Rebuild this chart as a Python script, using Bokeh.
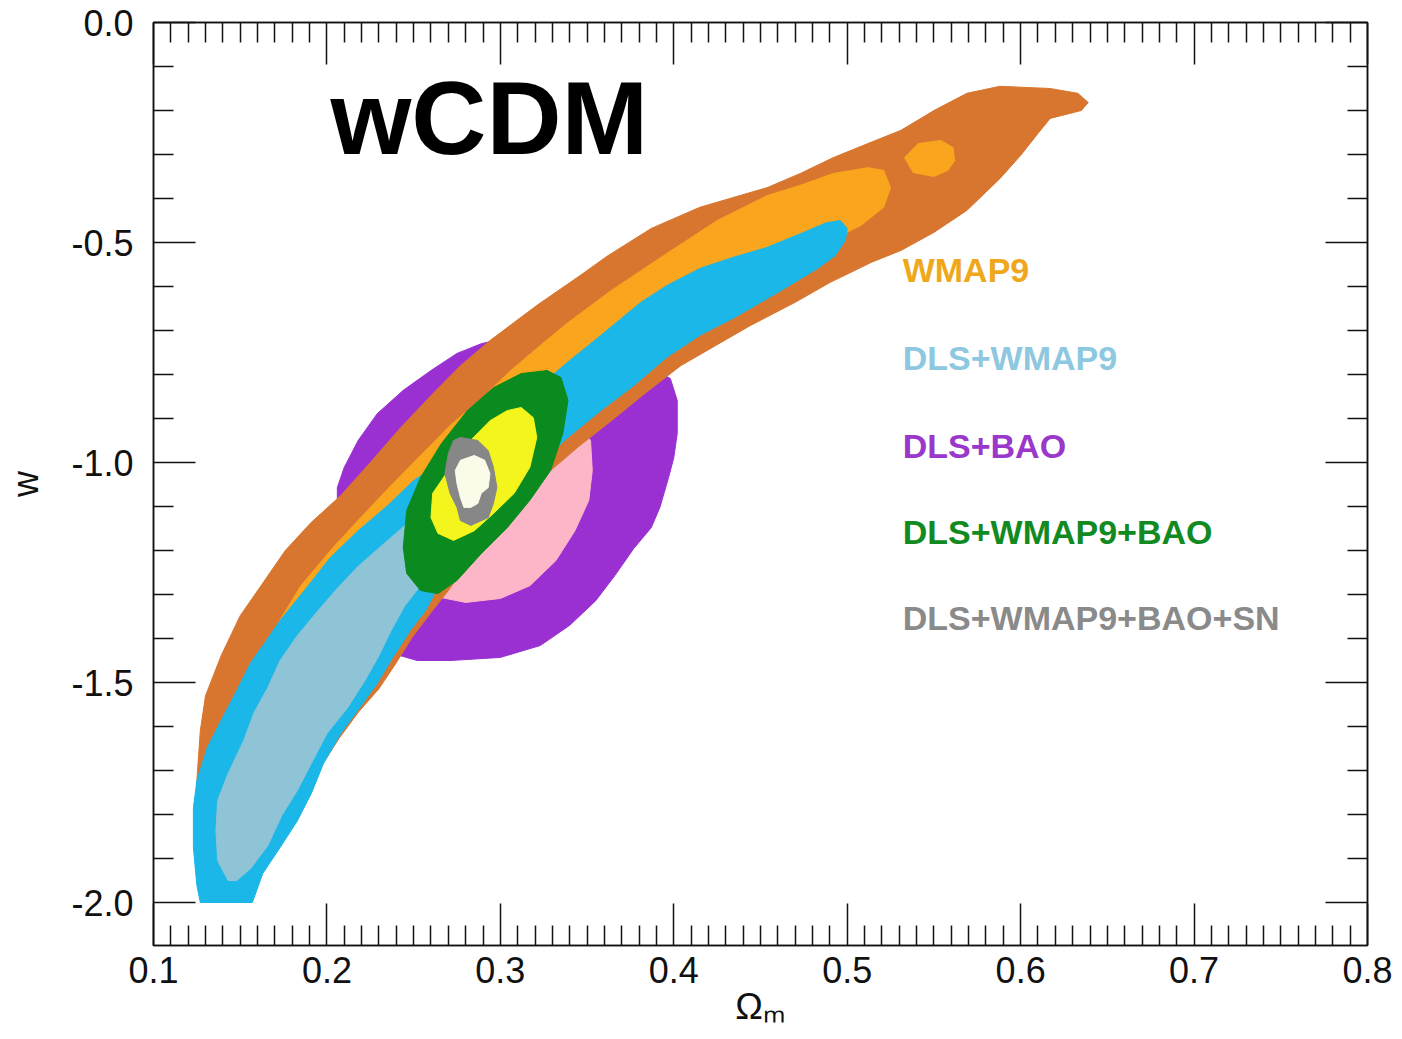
from bokeh.plotting import figure
from bokeh.models import Range1d, LinearAxis, FixedTicker, CustomJSTickFormatter, Label
from bokeh.embed import file_html
from bokeh.resources import INLINE

# ---------------- data (contour boundaries) ----------------
# DLS+BAO (95% outer / 68% inner)
bao95_x = [0.206, 0.210, 0.218, 0.229, 0.244, 0.260, 0.275, 0.289, 0.306, 0.326, 0.346, 0.366, 0.384, 0.398,
           0.402, 0.402, 0.400, 0.397, 0.392, 0.387, 0.377, 0.366, 0.355, 0.340, 0.323, 0.300, 0.271, 0.252,
           0.238, 0.228, 0.216, 0.210, 0.206]
bao95_y = [-1.057, -1.011, -0.950, -0.889, -0.836, -0.791, -0.752, -0.730, -0.714, -0.718, -0.734, -0.757, -0.780, -0.809,
           -0.859, -0.934, -0.989, -1.034, -1.102, -1.148, -1.195, -1.257, -1.314, -1.370, -1.416, -1.443, -1.450, -1.450,
           -1.434, -1.382, -1.291, -1.200, -1.120]
bao68_x = [0.352, 0.353, 0.351, 0.343, 0.332, 0.317, 0.300, 0.280, 0.266, 0.254, 0.248, 0.254, 0.271, 0.294, 0.317, 0.340]
bao68_y = [-0.950, -1.018, -1.086, -1.155, -1.223, -1.280, -1.309, -1.318, -1.307, -1.268, -1.200, -1.086, -0.984, -0.916,
           -0.882, -0.893]

# WMAP9
wmap95_x = [0.125, 0.127, 0.130, 0.139, 0.150, 0.162, 0.176, 0.191, 0.208, 0.225, 0.242, 0.260, 0.277, 0.294, 0.321,
            0.346, 0.362, 0.387, 0.415, 0.454, 0.473, 0.492, 0.512, 0.531, 0.550, 0.569, 0.588, 0.617, 0.633, 0.639,
            0.635, 0.617, 0.610, 0.600, 0.588, 0.569, 0.550, 0.531, 0.514, 0.490, 0.470, 0.444, 0.422, 0.404, 0.384,
            0.364, 0.345, 0.329, 0.312, 0.294, 0.280, 0.270, 0.260, 0.249, 0.240, 0.230, 0.218, 0.207, 0.197, 0.191,
            0.184, 0.177, 0.167, 0.150, 0.133, 0.125]
wmap95_y = [-1.723, -1.609, -1.530, -1.439, -1.348, -1.280, -1.200, -1.136, -1.075, -1.000, -0.923, -0.848, -0.780, -0.723,
            -0.643, -0.575, -0.530, -0.468, -0.420, -0.375, -0.343, -0.307, -0.275, -0.245, -0.200, -0.161, -0.145, -0.150,
            -0.161, -0.182, -0.200, -0.218, -0.252, -0.302, -0.355, -0.427, -0.477, -0.518, -0.545, -0.591, -0.636, -0.689,
            -0.739, -0.780, -0.841, -0.905, -0.964, -1.018, -1.086, -1.155, -1.234, -1.291, -1.341, -1.398, -1.455, -1.514,
            -1.568, -1.627, -1.689, -1.750, -1.802, -1.843, -1.882, -1.927, -1.905, -1.836]
wmap68_x = [0.172, 0.185, 0.202, 0.219, 0.237, 0.254, 0.271, 0.289, 0.306, 0.323, 0.339, 0.364, 0.394, 0.425, 0.454,
            0.473, 0.492, 0.512, 0.521, 0.525, 0.521, 0.508, 0.500, 0.485, 0.462, 0.439, 0.415, 0.387, 0.358, 0.329,
            0.300, 0.271, 0.242, 0.214, 0.185]
wmap68_y = [-1.364, -1.280, -1.200, -1.127, -1.052, -0.984, -0.916, -0.855, -0.791, -0.734, -0.682, -0.609, -0.530, -0.450,
            -0.393, -0.370, -0.343, -0.330, -0.336, -0.375, -0.420, -0.461, -0.477, -0.518, -0.564, -0.598, -0.632, -0.700,
            -0.768, -0.848, -0.927, -1.018, -1.120, -1.234, -1.348]
wmap68_island_x = [0.533, 0.541, 0.554, 0.561, 0.562, 0.558, 0.550, 0.538]
wmap68_island_y = [-0.307, -0.275, -0.268, -0.284, -0.314, -0.336, -0.350, -0.341]

# DLS+WMAP9
dw95_x = [0.127, 0.125, 0.123, 0.123, 0.125, 0.131, 0.139, 0.148, 0.156, 0.165, 0.173, 0.187, 0.202, 0.218, 0.235,
          0.250, 0.270, 0.289, 0.306, 0.323, 0.340, 0.358, 0.381, 0.396, 0.415, 0.434, 0.454, 0.473, 0.488, 0.496,
          0.500, 0.499, 0.493, 0.483, 0.462, 0.434, 0.415, 0.396, 0.377, 0.358, 0.339, 0.323, 0.308, 0.289, 0.277,
          0.266, 0.257, 0.248, 0.238, 0.229, 0.219, 0.208, 0.198, 0.191, 0.183, 0.173, 0.163, 0.157]
dw95_y = [-2.000, -1.961, -1.875, -1.784, -1.723, -1.648, -1.586, -1.518, -1.455, -1.405, -1.359, -1.291, -1.216, -1.155,
          -1.098, -1.041, -0.989, -0.939, -0.882, -0.825, -0.768, -0.711, -0.636, -0.598, -0.559, -0.534, -0.511, -0.480,
          -0.455, -0.450, -0.468, -0.495, -0.530, -0.559, -0.609, -0.673, -0.711, -0.761, -0.825, -0.882, -0.943, -1.000,
          -1.057, -1.120, -1.189, -1.268, -1.336, -1.382, -1.443, -1.502, -1.557, -1.616, -1.684, -1.752, -1.814, -1.875,
          -1.934, -2.000]
dw68_x = [0.143, 0.137, 0.136, 0.137, 0.143, 0.152, 0.158, 0.166, 0.173, 0.183, 0.195, 0.206, 0.218, 0.231, 0.245,
          0.260, 0.274, 0.283, 0.280, 0.266, 0.254, 0.245, 0.237, 0.230, 0.222, 0.212, 0.200, 0.191, 0.183, 0.174,
          0.166, 0.156, 0.148]
dw68_y = [-1.950, -1.905, -1.836, -1.768, -1.707, -1.632, -1.568, -1.511, -1.450, -1.393, -1.336, -1.286, -1.236, -1.191,
          -1.143, -1.098, -1.064, -1.075, -1.155, -1.223, -1.280, -1.325, -1.382, -1.439, -1.495, -1.557, -1.616, -1.684,
          -1.745, -1.802, -1.870, -1.923, -1.950]

# DLS+WMAP9+BAO
dwb95_x = [0.327, 0.312, 0.296, 0.281, 0.266, 0.254, 0.246, 0.244, 0.246, 0.254, 0.264, 0.275, 0.289, 0.304, 0.317,
           0.329, 0.336, 0.339, 0.335]
dwb95_y = [-0.791, -0.798, -0.830, -0.882, -0.957, -1.034, -1.109, -1.193, -1.252, -1.291, -1.298, -1.268, -1.207, -1.148,
           -1.086, -1.018, -0.934, -0.859, -0.807]
dwb68_x = [0.312, 0.319, 0.321, 0.317, 0.308, 0.296, 0.285, 0.273, 0.264, 0.260, 0.261, 0.270, 0.281, 0.294, 0.304]
dwb68_y = [-0.875, -0.898, -0.943, -1.011, -1.070, -1.116, -1.155, -1.177, -1.161, -1.125, -1.070, -1.018, -0.957, -0.905,
           -0.882]

# DLS+WMAP9+BAO+SN
dwbs95_x = [0.277, 0.287, 0.293, 0.296, 0.298, 0.296, 0.293, 0.283, 0.277, 0.275, 0.271, 0.268, 0.270, 0.273]
dwbs95_y = [-0.943, -0.950, -0.973, -1.011, -1.057, -1.093, -1.125, -1.143, -1.132, -1.102, -1.070, -1.025, -0.980, -0.950]
dwbs68_x = [0.277, 0.285, 0.291, 0.294, 0.293, 0.289, 0.287, 0.283, 0.279, 0.277, 0.275, 0.274]
dwbs68_y = [-0.995, -0.984, -0.995, -1.025, -1.057, -1.070, -1.093, -1.102, -1.102, -1.080, -1.048, -1.018]

# legend texts
legend_names = ["WMAP9", "DLS+WMAP9", "DLS+BAO", "DLS+WMAP9+BAO", "DLS+WMAP9+BAO+SN"]
legend_y = [-0.562, -0.762, -0.962, -1.157, -1.353]
legend_colors = ["#EFA81C", "#8DC8E0", "#9A38CC", "#128A22", "#8A8A8A"]

# axes
x_ticks = [0.1, 0.2, 0.3, 0.4, 0.5, 0.6, 0.7, 0.8]
x_minor = [round(0.1 + 0.01 * i, 2) for i in range(1, 70) if i % 10 != 0]
y_ticks = [-2.0, -1.5, -1.0, -0.5, 0.0]
y_minor = [round(-2.0 + 0.1 * i, 1) for i in range(1, 20) if i % 5 != 0]

# ---------------- figure ----------------
p = figure(width=1402, height=1039, x_range=Range1d(0.1, 0.8), y_range=Range1d(-2.0977, 0.0),
           x_axis_type=None, y_axis_type=None, output_backend="svg", toolbar_location=None,
           min_border_left=153, min_border_right=35, min_border_top=22, min_border_bottom=94)
p.background_fill_color = "white"
p.border_fill_color = "white"
p.outline_line_color = "#111111"
p.outline_line_width = 1.5

layers = [
    (bao95_x, bao95_y, "#9A30D2"),
    (bao68_x, bao68_y, "#FDB6C8"),
    (wmap95_x, wmap95_y, "#D8762F"),
    (wmap68_x, wmap68_y, "#F9A51E"),
    (wmap68_island_x, wmap68_island_y, "#F9A51E"),
    (dw95_x, dw95_y, "#1BB7E8"),
    (dw68_x, dw68_y, "#8FC3D6"),
    (dwb95_x, dwb95_y, "#0B8A1F"),
    (dwb68_x, dwb68_y, "#F3F51C"),
    (dwbs95_x, dwbs95_y, "#878787"),
    (dwbs68_x, dwbs68_y, "#FBFBEA"),
]
for xs, ys, col in layers:
    p.patch(xs, ys, fill_color=col, line_color=col, line_width=1)

fmt = CustomJSTickFormatter(code="return tick.toFixed(1);")
blank = CustomJSTickFormatter(code="return '';")


def style(ax, labels=True):
    ax.major_tick_in = 42
    ax.major_tick_out = 0
    ax.minor_tick_in = 20
    ax.minor_tick_out = 0
    ax.axis_line_width = 1.5
    ax.axis_line_color = "#111111"
    ax.major_tick_line_width = 1.5
    ax.minor_tick_line_width = 1.5
    ax.major_tick_line_color = "#111111"
    ax.minor_tick_line_color = "#111111"
    ax.major_label_text_font = "Liberation Sans"
    ax.major_label_text_font_size = "36px" if labels else "0px"
    ax.major_label_text_color = "#111111"
    ax.axis_label_text_font = "Liberation Sans"
    ax.axis_label_text_font_style = "normal"
    ax.axis_label_text_color = "#111111"


bottom = LinearAxis(ticker=FixedTicker(ticks=x_ticks, minor_ticks=x_minor), formatter=fmt)
style(bottom)
bottom.major_label_standoff = 11
bottom.axis_label = "Ωₘ"
bottom.axis_label_text_font_size = "37px"
bottom.axis_label_standoff = 0
top = LinearAxis(ticker=FixedTicker(ticks=x_ticks, minor_ticks=x_minor), formatter=blank)
style(top, labels=False)
left = LinearAxis(ticker=FixedTicker(ticks=y_ticks, minor_ticks=y_minor), formatter=fmt)
style(left)
left.major_label_standoff = 20
left.axis_label = "w"
left.axis_label_text_font_size = "36px"
left.axis_label_standoff = 22
right = LinearAxis(ticker=FixedTicker(ticks=y_ticks, minor_ticks=y_minor), formatter=blank)
style(right, labels=False)
p.add_layout(bottom, "below")
p.add_layout(top, "above")
p.add_layout(left, "left")
p.add_layout(right, "right")

# title inside plot
p.add_layout(Label(x=0.202, y=-0.218, text="wCDM", text_font="Liberation Sans", text_font_style="bold",
                   text_font_size="104px", text_color="black", text_baseline="alphabetic"))

for name, yy, col in zip(legend_names, legend_y, legend_colors):
    p.add_layout(Label(x=0.532, y=yy, text=name, text_font="Liberation Sans", text_font_style="bold",
                       text_font_size="34px", text_color=col, text_baseline="alphabetic"))

open("out.html", "w").write(file_html(p, INLINE))
